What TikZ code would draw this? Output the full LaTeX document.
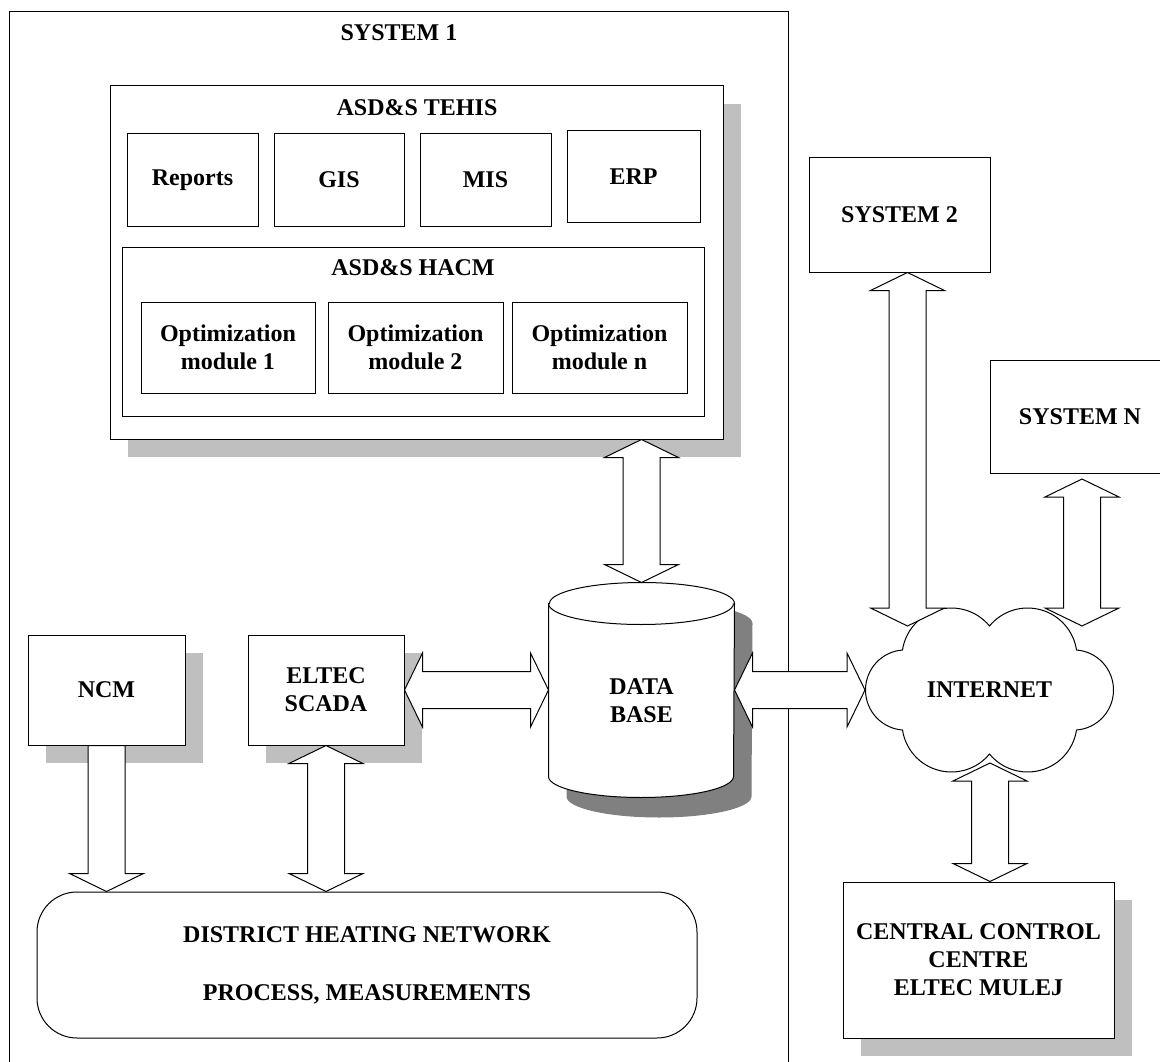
\documentclass[tikz,border=0pt]{standalone}
\usepackage{fontspec}
\setmainfont{Liberation Serif}
\usetikzlibrary{calc,shadows}
\newcommand{\arHL}{18pt}
\newcommand{\arHW}{37pt}
\newcommand{\arSW}{18.5pt}
% double block arrow between two points
\newcommand{\dblarrow}[2]{%
  \path #1 coordinate (arA) #2 coordinate (arB);
  \draw[blockarrow] (arA)
    -- ($(arA)!\arHL!(arB)!\arHW!90:(arB)$)
    -- ($(arA)!\arHL!(arB)!\arSW!90:(arB)$)
    -- ($(arB)!\arHL!(arA)!\arSW!-90:(arA)$)
    -- ($(arB)!\arHL!(arA)!\arHW!-90:(arA)$)
    -- (arB)
    -- ($(arB)!\arHL!(arA)!\arHW!90:(arA)$)
    -- ($(arB)!\arHL!(arA)!\arSW!90:(arA)$)
    -- ($(arA)!\arHL!(arB)!\arSW!-90:(arB)$)
    -- ($(arA)!\arHL!(arB)!\arHW!-90:(arB)$)
    -- cycle;}
% single block arrow from first point (flat) to second point (tip)
\newcommand{\sglarrow}[2]{%
  \path #1 coordinate (arA) #2 coordinate (arB);
  \draw[blockarrow] ($(arA)!\arSW!90:(arB)$)
    -- ($(arB)!\arHL!(arA)!\arSW!-90:(arA)$)
    -- ($(arB)!\arHL!(arA)!\arHW!-90:(arA)$)
    -- (arB)
    -- ($(arB)!\arHL!(arA)!\arHW!90:(arA)$)
    -- ($(arB)!\arHL!(arA)!\arSW!90:(arA)$)
    -- ($(arA)!\arSW!-90:(arB)$)
    -- cycle;}
\begin{document}
\begin{tikzpicture}[x=1pt,y=-1pt,
  font=\fontsize{24}{28}\selectfont\bfseries,
  line width=1pt,
  box/.style={draw, fill=white, inner sep=0pt, align=center},
  shbox/.style={box, drop shadow={shadow xshift=18pt, shadow yshift=-18pt, fill=black!25, opacity=1, draw=none}},
  blockarrow/.style={draw, fill=white, line join=miter},
  label/.style={inner sep=0pt, align=center}]
\useasboundingbox (0,0) rectangle (1160,1062);
\clip (0,0) rectangle (1160,1062);

% outer system 1 frame
\draw (9,1070) -- (9,12) -- (788,12) -- (788,1070);
\node[label] (sys1) at (399,33) {SYSTEM 1};

% ASD&S TEHIS
\node[shbox, minimum width=613pt, minimum height=353pt] (tehis) at (416.5,262.5) {};
\node[label] (tehist) at (417,108) {ASD\&S TEHIS};
\node[box, minimum width=131pt, minimum height=92pt] (reports) at (192.5,180) {Reports};
\node[box, minimum width=130pt, minimum height=92pt] (gis) at (339,180) {GIS};
\node[box, minimum width=131pt, minimum height=92pt] (mis) at (485.5,180) {MIS};
\node[box, minimum width=133pt, minimum height=91pt] (erp) at (633.5,176.5) {ERP};

% ASD&S HACM
\node[box, minimum width=582pt, minimum height=169pt] (hacm) at (413,331.5) {};
\node[label] (hacmt) at (413,268) {ASD\&S HACM};
\node[box, minimum width=174pt, minimum height=91pt] (opt1) at (228,347.5) {Optimization\\module 1};
\node[box, minimum width=175pt, minimum height=91pt] (opt2) at (415.5,347.5) {Optimization\\module 2};
\node[box, minimum width=175pt, minimum height=91pt] (optn) at (599.5,347.5) {Optimization\\module n};

% NCM and SCADA
\node[shbox, minimum width=157pt, minimum height=110pt] (ncm) at (106.5,690) {NCM};
\node[shbox, minimum width=156pt, minimum height=110pt] (scada) at (326,690) {ELTEC\\SCADA};

% district heating network
\node[box, rounded corners=40pt, minimum width=660pt, minimum height=146pt] (dhn) at (367,965)
  {DISTRICT HEATING NETWORK\\[30pt]PROCESS, MEASUREMENTS};

% database cylinder
\node[label, minimum width=185pt, minimum height=214pt] (db) at (641.5,690) {};
\fill[black!50] ($(db.north west)+(18,41)$) -- ($(db.south west)+(18,-1)$)
  arc[start angle=180,end angle=360,x radius=92.5pt,y radius=21pt]
  -- ($(db.north east)+(18,41)$)
  arc[start angle=0,end angle=180,x radius=92.5pt,y radius=21pt] -- cycle;
\draw[fill=white] ($(db.north west)+(0,21)$) -- ($(db.south west)+(0,-21)$)
  arc[start angle=180,end angle=360,x radius=92.5pt,y radius=21pt]
  -- ($(db.north east)+(0,21)$)
  arc[start angle=0,end angle=180,x radius=92.5pt,y radius=21pt] -- cycle;
\draw ($(db.north west)+(0,21)$)
  arc[start angle=180,end angle=360,x radius=92.5pt,y radius=21pt];
\node[label] (dbt) at (641.5,701) {DATA\\BASE};

% other systems
\node[box, minimum width=181pt, minimum height=114pt] (sys2) at (899.5,215) {SYSTEM 2};
\node[box, minimum width=180pt, minimum height=113pt] (sysn) at (1080,416.5) {SYSTEM N};

% internet cloud (six puffs)
\coordinate (cloudc) at (989.5,690);
\begin{scope}[shift={(cloudc)}]
\draw[fill=white] (0,-64)
  .. controls (12.4,-79.1) and (32.5,-85.4) .. (51.3,-80.2)
  .. controls (70.1,-75) and (84.1,-59.3) .. (87,-40)
  .. controls (107.9,-38.4) and (124,-21) .. (124,0)
  .. controls (124,21) and (107.9,38.4) .. (87,40)
  .. controls (84.1,59.3) and (70.1,75) .. (51.3,80.2)
  .. controls (32.5,85.4) and (12.4,79.1) .. (0,64)
  .. controls (-12.4,79.1) and (-32.5,85.4) .. (-51.3,80.2)
  .. controls (-70.1,75) and (-84.1,59.3) .. (-87,40)
  .. controls (-107.9,38.4) and (-124,21) .. (-124,0)
  .. controls (-124,-21) and (-107.9,-38.4) .. (-87,-40)
  .. controls (-84.1,-59.3) and (-70.1,-75) .. (-51.3,-80.2)
  .. controls (-32.5,-85.4) and (-12.4,-79.1) .. (0,-64)
  -- cycle;
\end{scope}
\node[label, minimum width=248pt, minimum height=166pt] (cloud) at (cloudc) {INTERNET};

% central control centre
\node[shbox, minimum width=271pt, minimum height=156pt] (ccc) at (978.5,960)
  {CENTRAL CONTROL\\CENTRE\\ELTEC MULEJ};

% free ends of connectors at the cloud
\coordinate (s2in) at (907.5,626);
\coordinate (snin) at (1082,626);
\coordinate (ccin) at (990,763);
\coordinate (sntop) at (1082,479);

% block arrows
\dblarrow{(db.north)}{(db.north |- tehis.south)}
\sglarrow{(ncm.south)}{(ncm.south |- dhn.north)}
\dblarrow{(scada.south)}{(scada.south |- dhn.north)}
\dblarrow{(scada.east)}{(scada.east -| db.west)}
\dblarrow{(db.east)}{(db.east -| cloud.west)}
\dblarrow{(s2in |- sys2.south)}{(s2in)}
\dblarrow{(sntop)}{(snin)}
\dblarrow{(ccin)}{(ccin |- ccc.north)}
\end{tikzpicture}
\end{document}
